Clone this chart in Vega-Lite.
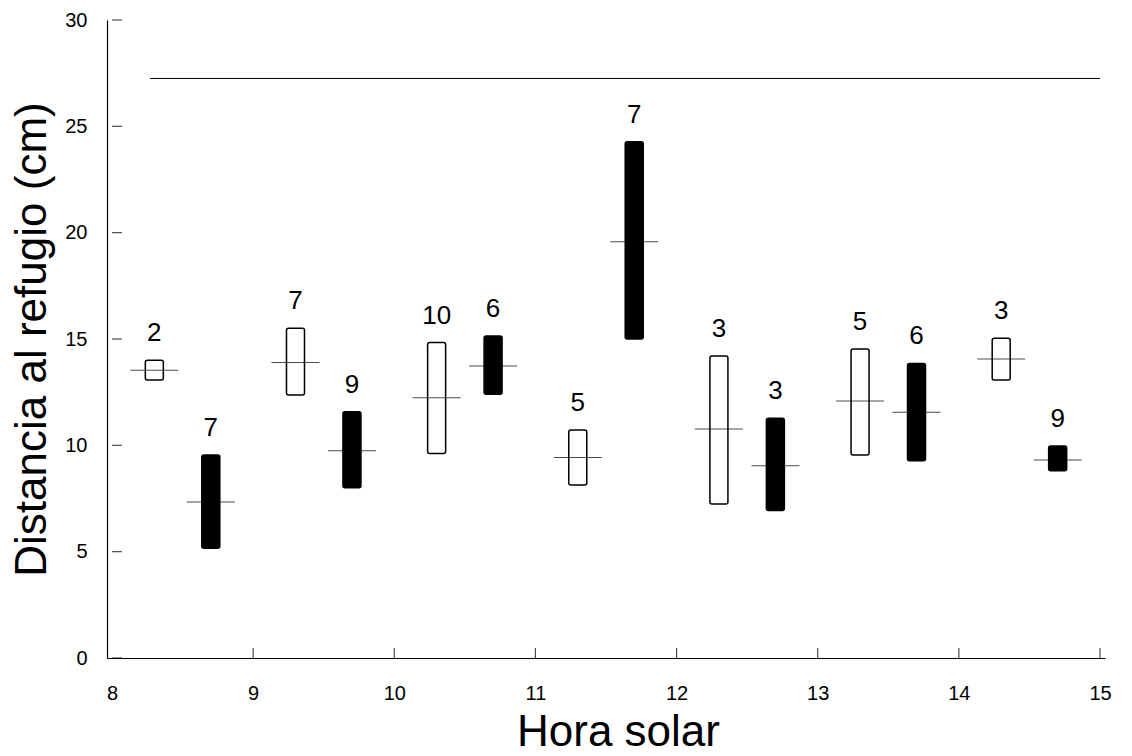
{
  "$schema": "https://vega.github.io/schema/vega-lite/v6.json",
  "autosize": {"type": "none"},
  "width": 998,
  "height": 638,
  "padding": {"left": 107, "top": 20, "right": 27, "bottom": 98},
  "background": "white",
  "config": {
    "view": {"stroke": null},
    "font": "Liberation Sans",
    "axis": {"grid": false, "domainColor": "black", "labelColor": "black", "titleColor": "black", "labelFont": "Liberation Sans", "titleFont": "Liberation Sans", "titleFontWeight": "normal", "domainWidth": 1.2, "ticks": false, "tickSize": 0}
  },
  "datasets": {
    "cajas": [
      {"hora": 8.3, "tipo": "abierto", "q3": 14.0, "q1": 13.07, "mediana": 13.53, "n": 2},
      {"hora": 8.7, "tipo": "negro", "q3": 9.54, "q1": 5.16, "mediana": 7.33, "n": 7},
      {"hora": 9.3, "tipo": "abierto", "q3": 15.5, "q1": 12.37, "mediana": 13.9, "n": 7},
      {"hora": 9.7, "tipo": "negro", "q3": 11.58, "q1": 8.0, "mediana": 9.75, "n": 9},
      {"hora": 10.3, "tipo": "abierto", "q3": 14.83, "q1": 9.62, "mediana": 12.24, "n": 10},
      {"hora": 10.7, "tipo": "negro", "q3": 15.14, "q1": 12.4, "mediana": 13.73, "n": 6},
      {"hora": 11.3, "tipo": "abierto", "q3": 10.72, "q1": 8.13, "mediana": 9.43, "n": 5},
      {"hora": 11.7, "tipo": "negro", "q3": 24.27, "q1": 15.0, "mediana": 19.57, "n": 7},
      {"hora": 12.3, "tipo": "abierto", "q3": 14.2, "q1": 7.24, "mediana": 10.77, "n": 3},
      {"hora": 12.7, "tipo": "negro", "q3": 11.27, "q1": 6.93, "mediana": 9.04, "n": 3},
      {"hora": 13.3, "tipo": "abierto", "q3": 14.53, "q1": 9.54, "mediana": 12.08, "n": 5},
      {"hora": 13.7, "tipo": "negro", "q3": 13.85, "q1": 9.28, "mediana": 11.55, "n": 6},
      {"hora": 14.3, "tipo": "abierto", "q3": 15.03, "q1": 13.07, "mediana": 14.06, "n": 3},
      {"hora": 14.7, "tipo": "negro", "q3": 9.97, "q1": 8.81, "mediana": 9.31, "n": 9}
    ],
    "referencia": [
      {"desde": 8.27, "hasta": 15, "nivel": 27.25}
    ],
    "marcasY": [
      {"v": 0}, {"v": 5}, {"v": 10}, {"v": 15}, {"v": 20}, {"v": 25}, {"v": 30}
    ],
    "marcasX": [
      {"h": 9}, {"h": 10}, {"h": 11}, {"h": 12}, {"h": 13}, {"h": 14}, {"h": 15}
    ]
  },
  "layer": [
    {
      "data": {"name": "referencia"},
      "mark": {"type": "rule", "color": "black", "strokeWidth": 1},
      "encoding": {
        "x": {"field": "desde", "type": "quantitative", "scale": {"domain": [8, 15], "nice": false, "zero": false},
          "axis": {"values": [8, 9, 10, 11, 12, 13, 14, 15], "format": "d", "labelPadding": 41, "labelFontSize": 20, "labelBaseline": "alphabetic", "title": "Hora solar", "titleFontSize": 44, "titleX": 511, "titleY": 87, "titleBaseline": "alphabetic", "titleAlign": "center"}},
        "x2": {"field": "hasta"},
        "y": {"field": "nivel", "type": "quantitative", "scale": {"domain": [0, 30], "nice": false},
          "axis": {"values": [0, 5, 10, 15, 20, 25, 30], "format": "d", "labelPadding": 20, "labelFontSize": 20, "title": "Distancia al refugio (cm)", "titleFontSize": 44, "titleX": -62, "titleY": 319, "titleBaseline": "alphabetic", "titleAlign": "center", "titleAngle": -90}}
      }
    },
    {
      "data": {"name": "marcasY"},
      "mark": {"type": "tick", "orient": "horizontal", "size": 10, "thickness": 1.2, "color": "black", "xOffset": 5},
      "encoding": {
        "x": {"datum": 8, "type": "quantitative"},
        "y": {"field": "v", "type": "quantitative"}
      }
    },
    {
      "data": {"name": "marcasX"},
      "mark": {"type": "tick", "orient": "vertical", "size": 10, "thickness": 1.2, "color": "black", "yOffset": -5},
      "encoding": {
        "x": {"field": "h", "type": "quantitative"},
        "y": {"datum": 0, "type": "quantitative"}
      }
    },
    {
      "data": {"name": "cajas"},
      "mark": {"type": "bar", "size": 18, "stroke": "black", "strokeWidth": 1.5, "cornerRadius": 2},
      "encoding": {
        "x": {"field": "hora", "type": "quantitative"},
        "y": {"field": "q1", "type": "quantitative"},
        "y2": {"field": "q3"},
        "fill": {"field": "tipo", "type": "nominal", "scale": {"domain": ["abierto", "negro"], "range": ["white", "black"]}, "legend": null}
      }
    },
    {
      "data": {"name": "cajas"},
      "mark": {"type": "tick", "orient": "horizontal", "size": 48, "thickness": 1, "color": "black"},
      "encoding": {
        "x": {"field": "hora", "type": "quantitative"},
        "y": {"field": "mediana", "type": "quantitative"}
      }
    },
    {
      "data": {"name": "cajas"},
      "mark": {"type": "text", "fontSize": 26, "baseline": "alphabetic", "dy": -19, "color": "black", "font": "Liberation Sans"},
      "encoding": {
        "x": {"field": "hora", "type": "quantitative"},
        "y": {"field": "q3", "type": "quantitative"},
        "text": {"field": "n", "type": "quantitative"}
      }
    }
  ]
}
